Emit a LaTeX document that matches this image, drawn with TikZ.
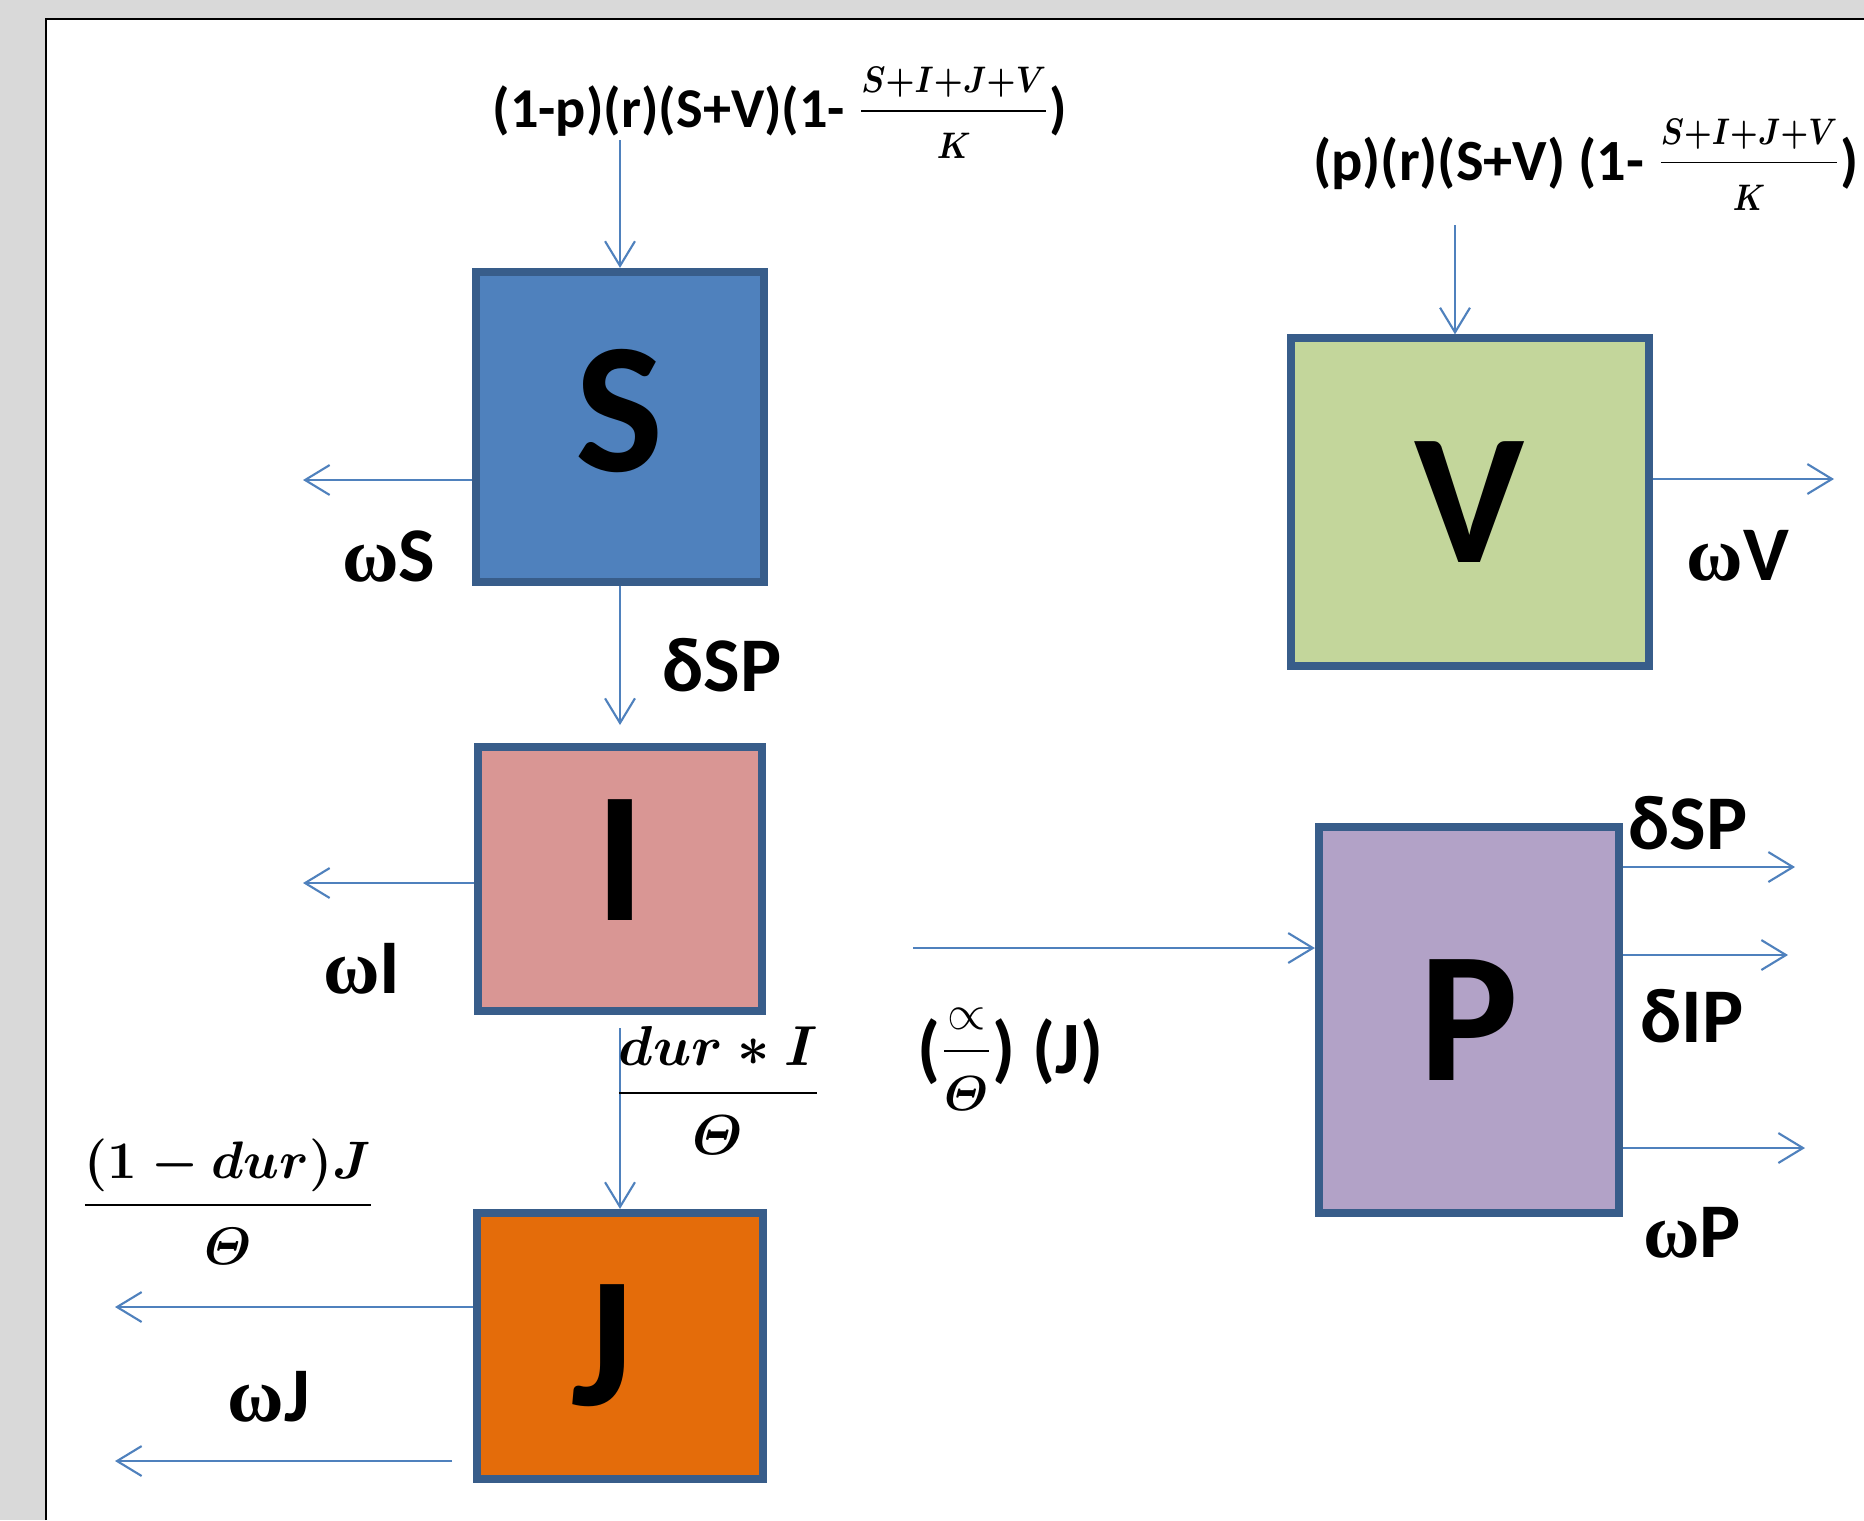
\documentclass[tikz,border=0pt]{standalone}
\usepackage{fix-cm}
\usepackage{amsmath}
\usepackage{graphicx}
\usepackage[no-math]{fontspec}
\setmainfont{Carlito}
\newfontfamily\omegafont{Liberation Serif}
\usepackage{tikz}
\usetikzlibrary{arrows.meta}
\providecommand\varTheta{\mathit{\Theta}}
\newcommand{\om}{{\omegafont ω}}
\newcommand{\logistic}[1][0.88]{\scalebox{#1}[1]{\fontsize{10.5}{13}\selectfont\boldmath$\dfrac{S{+}I{+}J{+}V}{\rule{0pt}{12pt}K}$}}
\definecolor{pagegray}{HTML}{D9D9D9}
\definecolor{flowblue}{HTML}{4F81BD}
\definecolor{edgeblue}{HTML}{385D8A}
\definecolor{sfill}{HTML}{4F81BD}
\definecolor{vfill}{HTML}{C3D69B}
\definecolor{ifill}{HTML}{D99694}
\definecolor{jfill}{HTML}{E46C0A}
\definecolor{pfill}{HTML}{B2A2C7}

\begin{document}
\begin{tikzpicture}[x=0.01cm,y=-0.01cm,
  popbox/.style={draw=edgeblue,line width=2.3pt,inner sep=0pt,font=\fontsize{53}{60}\selectfont\bfseries},
  flow/.style={flowblue,line width=0.6pt,-{Straight Barb[length=7pt,width=8.5pt]}},
  rate/.style={inner sep=0pt,font=\fontsize{22}{26}\selectfont\bfseries},
  term/.style={inner sep=0pt,anchor=base,font=\fontsize{16}{19}\selectfont\bfseries}]
  \useasboundingbox (0,0) rectangle (1864,1520);
  \fill[pagegray] (0,0) rectangle (1864,1520);
  \fill[white] (46,19) rectangle (1864,1520);
  \draw[line width=0.7pt] (46,1520) -- (46,19) -- (1864,19);

  % compartments
  \node[popbox,fill=sfill,minimum width=2.88cm,minimum height=3.10cm,text depth=9.7pt] (S) at (620,427) {S};
  \node[popbox,fill=vfill,minimum width=3.57cm,minimum height=3.27cm] (V) at (1470,502) {V};
  \node[popbox,fill=ifill,minimum width=2.83cm,minimum height=2.64cm,text depth=10.8pt] (I) at (620,879) {I};
  \node[popbox,fill=jfill,minimum width=2.85cm,minimum height=2.66cm] (J) at (620,1346) {J\kern10pt};
  \node[popbox,fill=pfill,minimum width=3.00cm,minimum height=3.86cm] (P) at (1469,1020) {P};

  % flows
  \coordinate (sIn) at (620,140);
  \coordinate (vIn) at (1455,225);
  \coordinate (sOut) at (303,480);
  \coordinate (vOut) at (1834,479);
  \coordinate (iIn) at (620,725);
  \coordinate (iOut) at (303,883);
  \coordinate (jOutA) at (115,1307);
  \coordinate (jTail) at (452,1461);
  \coordinate (jOutB) at (115,1461);
  \coordinate (pIn) at (913,948);
  \draw[flow] (sIn) -- (S.north);
  \draw[flow] (vIn) -- (vIn |- V.north);
  \draw[flow] (S.west |- sOut) -- (sOut);
  \draw[flow] (V.east |- vOut) -- (vOut);
  \draw[flow] (S.south) -- (iIn);
  \draw[flow] (I.west |- iOut) -- (iOut);
  \draw[flow,shorten <=0.13cm] (I.south) -- (I.south |- J.north);
  \draw[flow] (J.west |- jOutA) -- (jOutA);
  \draw[flow] (jTail) -- (jOutB);
  \draw[flow] (pIn) -- (P.west |- pIn);
  \foreach \n/\x/\y in {A/1795/867, B/1788/955, C/1805/1148} {
    \coordinate (pOut\n) at (\x,\y);
    \draw[flow] (P.east |- pOut\n) -- (pOut\n);
  }

  % rates
  \node[rate] (wS) at (389,556) {\om S};
  \node[rate] (dSP) at (722,665) {δSP};
  \node[rate] (wV) at (1738,556) {\om V};
  \node[rate] (wI) at (362,969) {\om I};
  \node[rate] (dSPp) at (1688,823) {δSP};
  \node[rate] (dIP) at (1692,1016) {δIP};
  \node[rate] (wP) at (1692,1233) {\om P};
  \node[rate] (wJ) at (269,1397) {\om J};
  \node[term] (birthS) at (780,127) {(1-p)(r)(S+V)(1- \raisebox{2pt}{\logistic})};
  \node[term,font=\fontsize{16.6}{20}\selectfont\bfseries] (birthV) at (1586,180) {(p)(r)(S+V) (1- \raisebox{2.3pt}{\logistic[0.84]})};
  \node[term] (durI) at (718,1107) {{\boldmath$\dfrac{dur\ast I}{\rule{0pt}{15pt}\varTheta}$}};
  \node[term,font=\fontsize{15}{18}\selectfont] (durJ) at (228,1218) {{\boldmath$\dfrac{(1-dur)J}{\rule{0pt}{15pt}\varTheta}$}};
  \node[term,font=\fontsize{21}{25}\selectfont\bfseries] (alphaJ) at (1010,1073) {(\raisebox{2.8pt}{\fontsize{14}{16}\selectfont$\dfrac{\propto}{\rule{0pt}{15pt}\boldsymbol{\varTheta}}$}) (J)};
\end{tikzpicture}
\end{document}
